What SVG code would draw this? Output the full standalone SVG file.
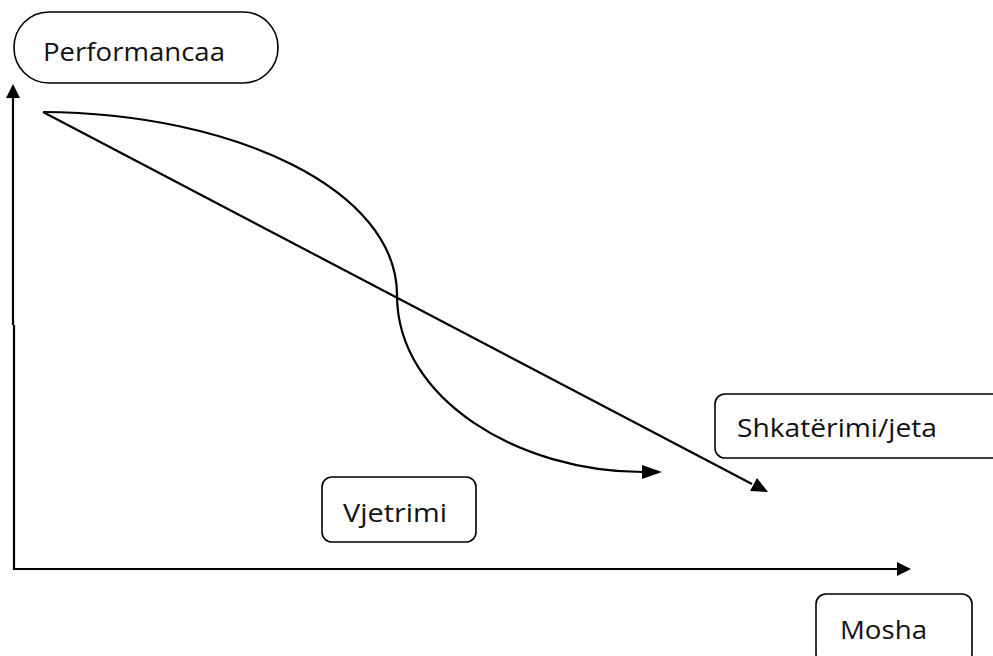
<svg xmlns="http://www.w3.org/2000/svg" width="993" height="656" viewBox="0 0 993 656">
<style>
.box{fill:#fff;stroke:#000;stroke-width:1.6}
.lbl{font-family:"Open Sans","Liberation Sans",sans-serif;font-size:26px;fill:#111}
.ln{fill:none;stroke:#000;stroke-width:2.2}
</style>
<rect width="993" height="656" fill="#fff"/>
<g id="connectors">
<path class="ln" d="M13,325 L13,98"/>
<path d="M13,84 L6,98 L20,98 Z" fill="#000"/>
<path class="ln" d="M14,325 L14,569 L897,569"/>
<path d="M911,569 L897,562 L897,576 Z" fill="#000"/>
<path class="ln" d="M43,112 L752,484"/>
<path d="M768,492 L750,491 L757,478 Z" fill="#000"/>
<path class="ln" d="M43,112 C235,113 397,190 397,295 C397,400 520,472 643,472"/>
<path d="M662,472 L642,465 L642,479 Z" fill="#000"/>
</g>
<g id="node-performancaa">
<rect class="box" x="14" y="12" width="264" height="71" rx="35" ry="35"/>
<text class="lbl" x="43" y="61" textLength="182" lengthAdjust="spacingAndGlyphs">Performancaa</text>
</g>
<g id="node-shkaterimi">
<rect class="box" x="715" y="394" width="290" height="64" rx="10" ry="10"/>
<text class="lbl" x="737" y="437" textLength="200" lengthAdjust="spacingAndGlyphs">Shkatërimi/jeta</text>
</g>
<g id="node-vjetrimi">
<rect class="box" x="322" y="477" width="154" height="65" rx="10" ry="10"/>
<text class="lbl" x="343" y="522" textLength="104" lengthAdjust="spacingAndGlyphs">Vjetrimi</text>
</g>
<g id="node-mosha">
<rect class="box" x="816" y="594" width="156" height="70" rx="10" ry="10"/>
<text class="lbl" x="840" y="639" textLength="87" lengthAdjust="spacingAndGlyphs">Mosha</text>
</g>
</svg>
